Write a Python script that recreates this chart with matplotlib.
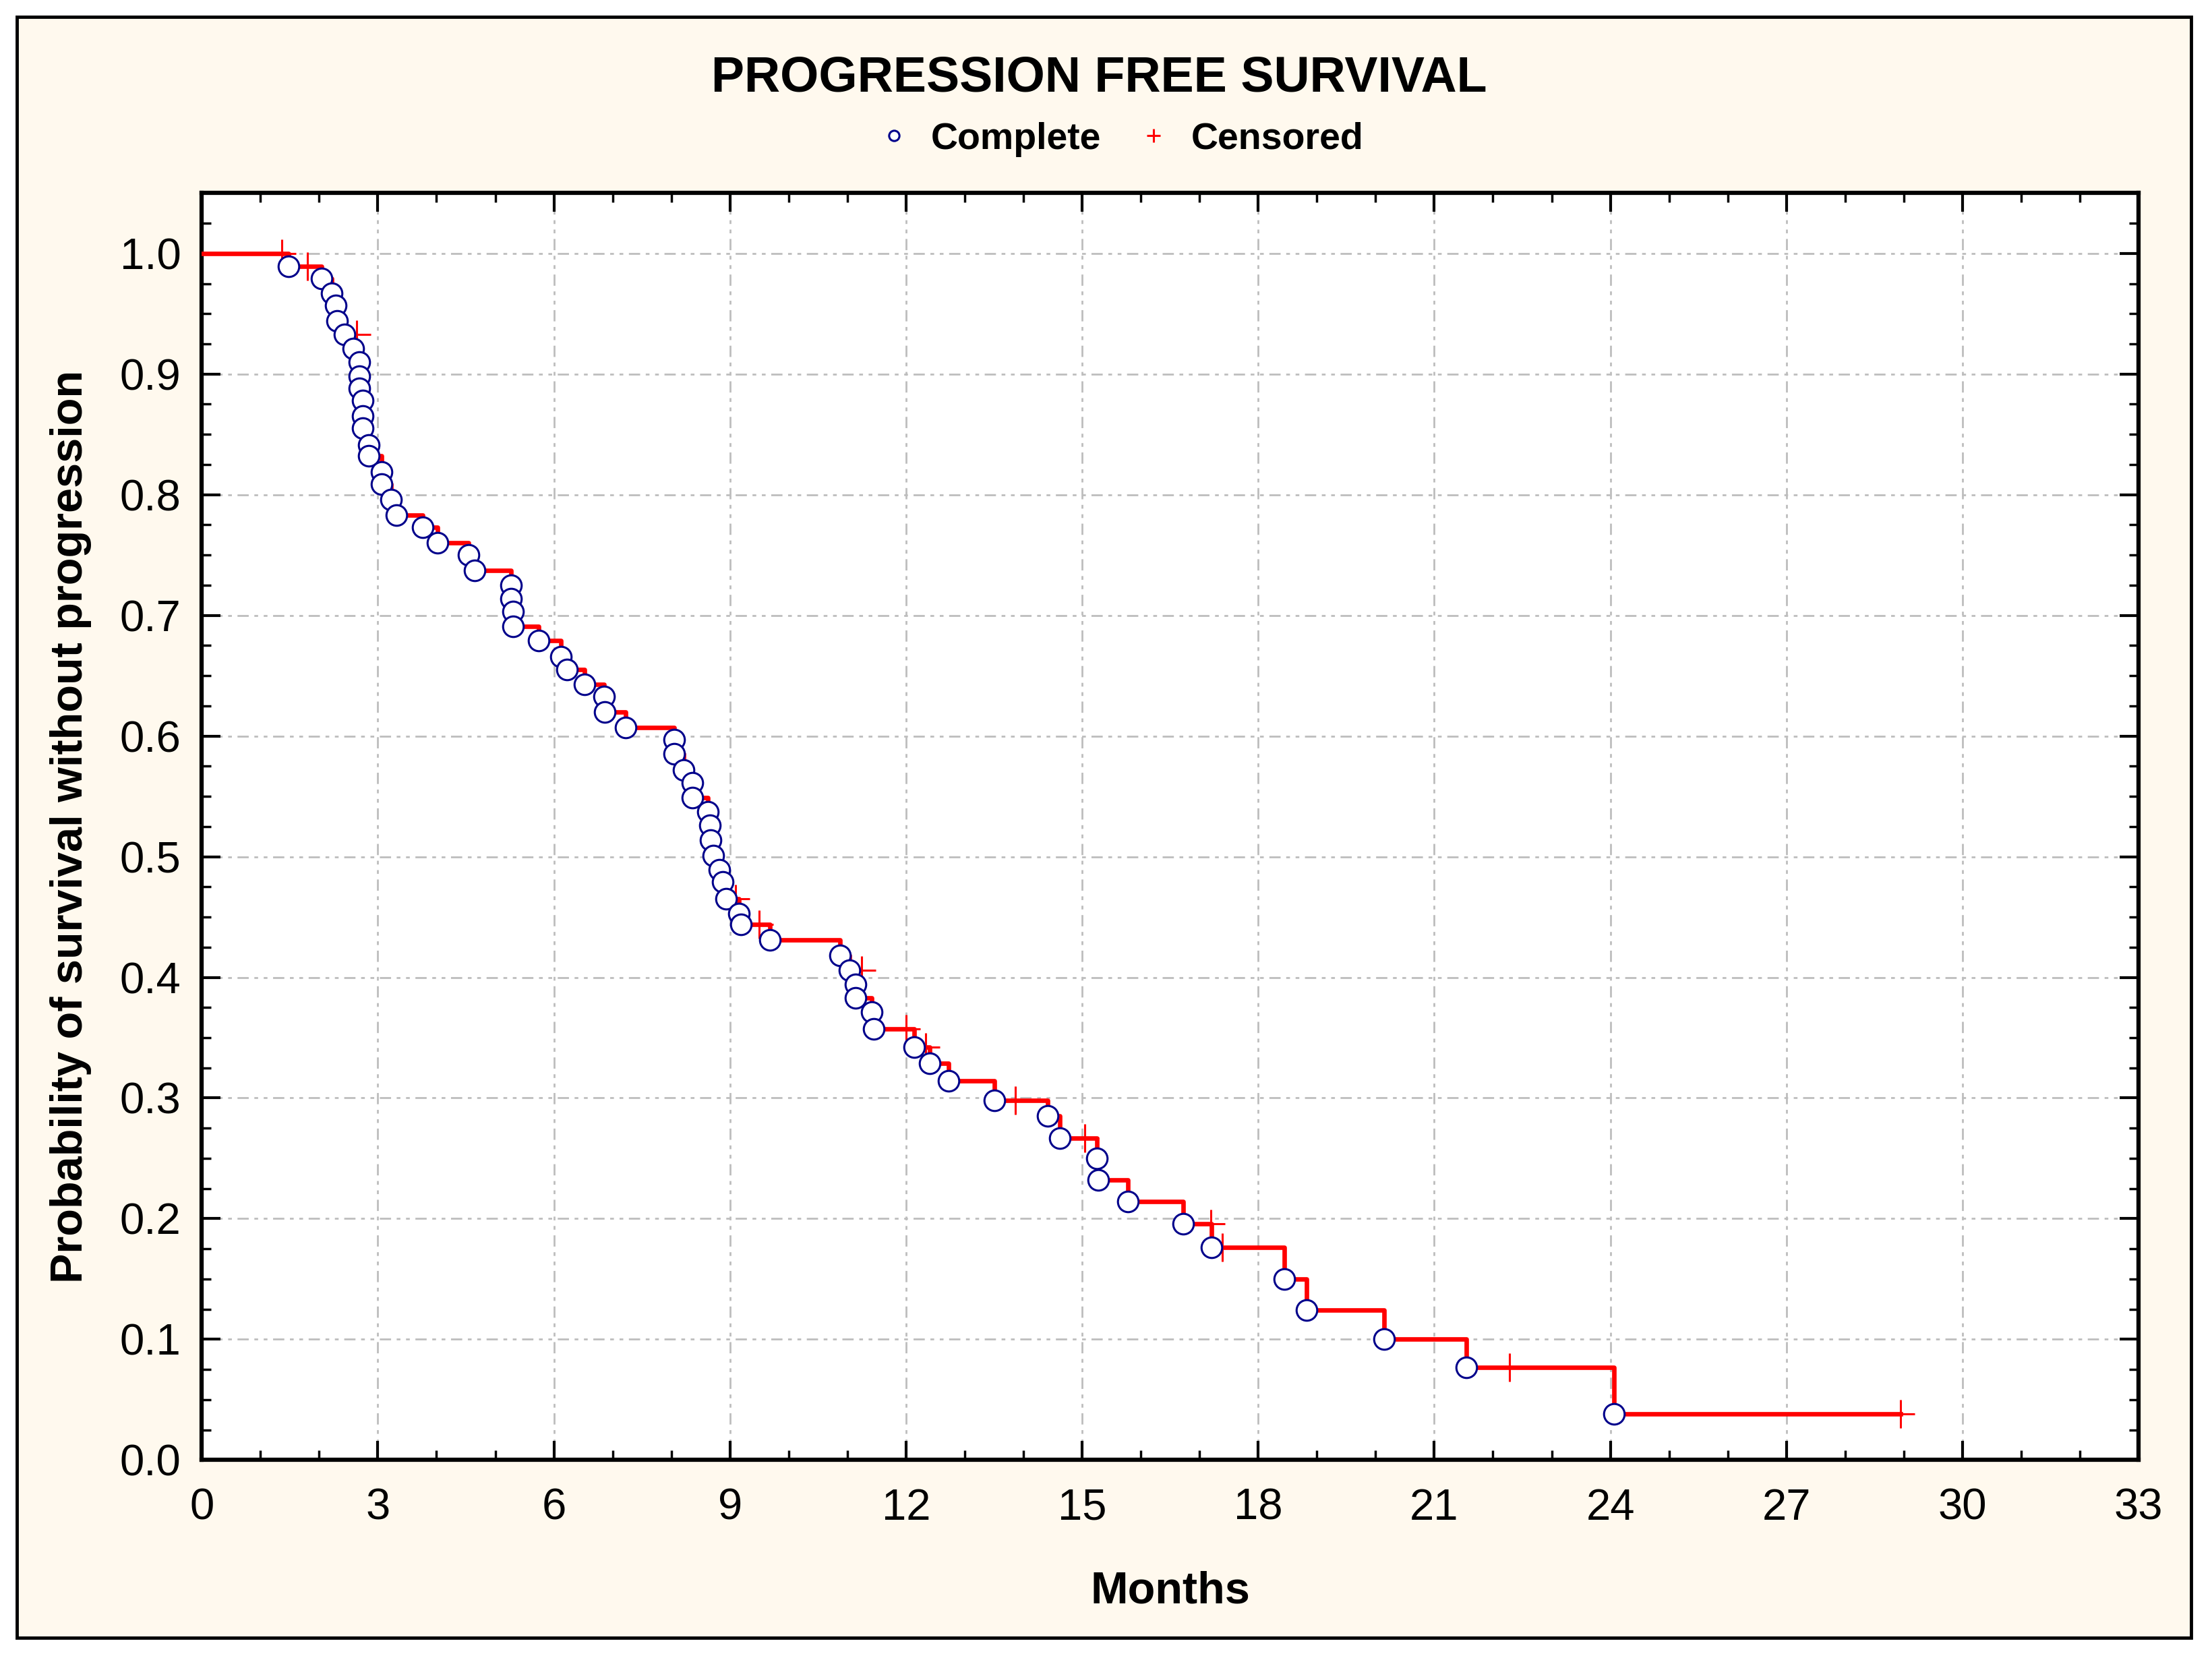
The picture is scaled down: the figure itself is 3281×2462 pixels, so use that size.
import numpy as np
import matplotlib.pyplot as plt
from matplotlib.patches import Rectangle

# Kaplan-Meier estimate: event times (months) and survival after each event
event_months = [1.48, 2.04, 2.21, 2.28, 2.31, 2.43, 2.58, 2.69, 2.69, 2.69,
                2.74, 2.74, 2.74, 2.85, 2.85, 3.06, 3.06, 3.22, 3.32, 3.76,
                4.02, 4.55, 4.65, 5.27, 5.27, 5.31, 5.31, 5.74, 6.12, 6.22,
                6.52, 6.85, 6.87, 7.22, 8.05, 8.05, 8.21, 8.36, 8.36, 8.62,
                8.66, 8.67, 8.72, 8.82, 8.88, 8.93, 9.15, 9.19, 9.68, 10.88,
                11.04, 11.14, 11.14, 11.41, 11.45, 12.14, 12.40, 12.73, 13.51, 14.41,
                14.62, 15.25, 15.28, 15.78, 16.72, 17.20, 18.45, 18.82, 20.14, 21.55,
                24.06]
event_surv = [0.989, 0.979, 0.967, 0.957, 0.944, 0.933, 0.921, 0.910, 0.898, 0.888,
              0.878, 0.865, 0.855, 0.841, 0.832, 0.819, 0.809, 0.796, 0.783, 0.773,
              0.760, 0.750, 0.737, 0.725, 0.714, 0.703, 0.691, 0.679, 0.666, 0.655,
              0.643, 0.633, 0.620, 0.607, 0.597, 0.585, 0.572, 0.561, 0.549, 0.537,
              0.526, 0.514, 0.501, 0.489, 0.479, 0.465, 0.453, 0.444, 0.431, 0.418,
              0.406, 0.394, 0.383, 0.371, 0.357, 0.342, 0.329, 0.314, 0.298, 0.285,
              0.267, 0.250, 0.232, 0.214, 0.196, 0.176, 0.150, 0.124, 0.100, 0.077,
              0.038]

# censored observations
cens_months = [1.37, 1.80, 2.64, 9.10, 9.50, 11.24, 12.00, 12.33, 13.86, 15.04,
               17.19, 17.39, 22.28, 28.94]
cens_surv = [1.000, 0.989, 0.933, 0.465, 0.444, 0.406, 0.357, 0.342, 0.298, 0.267,
             0.196, 0.176, 0.077, 0.038]

x_ticks = [0, 3, 6, 9, 12, 15, 18, 21, 24, 27, 30, 33]
y_ticks = [0.0, 0.1, 0.2, 0.3, 0.4, 0.5, 0.6, 0.7, 0.8, 0.9, 1.0]

plt.rcParams['font.family'] = ['Liberation Sans', 'DejaVu Sans']

fig = plt.figure(figsize=(32.81, 24.62), dpi=100, facecolor='white')
fig.patches.append(Rectangle((0.0077, 0.0136), 0.9828, 0.9762, transform=fig.transFigure,
                             facecolor='#FFF9EE', edgecolor='black', lw=3.5, zorder=-10))

ax = fig.add_axes([0.0912, 0.1205, 0.8756, 0.7632])
ax.set_facecolor('white')

# step curve
step_x = [0.0] + event_months + [cens_months[-1]]
step_y = [1.0] + event_surv + [event_surv[-1]]
ax.step(step_x, step_y, where='post', color='red', lw=4.8, zorder=3)

ax.plot(cens_months, cens_surv, '+', ms=30, color='red', mew=2.2, zorder=4,
        label='Censored')
ax.plot(event_months, event_surv, 'o', ms=22, mfc='white', mec='#00008B', mew=2.2,
        zorder=5, label='Complete')

ax.set_xlim(0, 33)
ax.set_ylim(0, 1.05)
ax.set_xticks(x_ticks)
ax.set_xticks(np.arange(0, 34, 1), minor=True)
ax.set_yticks(y_ticks)
ax.set_yticks(np.arange(0, 1.05, 0.025), minor=True)
ax.set_yticklabels([f"{v:.1f}" for v in y_ticks])

ax.tick_params(which='both', direction='in', top=True, right=True, labelsize=47,
               width=3, pad=22)
ax.tick_params(axis='x', which='major', pad=30)
ax.tick_params(which='major', length=20)
ax.tick_params(which='minor', length=10, width=2.5)
for s in ax.spines.values():
    s.set_linewidth(4.5)

ax.grid(True, which='major', color='#BDBDBD', lw=2, linestyle=(0, (6, 3, 2, 3, 2, 3)))
ax.set_axisbelow(True)

ax.set_xlabel('Months', fontsize=48, fontweight='bold', labelpad=45)
ax.set_ylabel('Probability of survival without progression', fontsize=48,
              fontweight='bold', labelpad=30)

fig.text(0.497, 0.953, 'PROGRESSION FREE SURVIVAL', ha='center', va='center',
         fontsize=53, fontweight='bold')

handles, labels = ax.get_legend_handles_labels()
order = [1, 0]
leg = fig.legend([handles[i] for i in order], [labels[i] for i in order],
                 loc='center', bbox_to_anchor=(0.506, 0.916), ncol=2,
                 frameon=False, markerscale=0.5, handlelength=1.0, handletextpad=0.5,
                 columnspacing=0.9, prop={'size': 40, 'weight': 'bold'})

fig.savefig('out.png', dpi=100, facecolor=fig.get_facecolor())
